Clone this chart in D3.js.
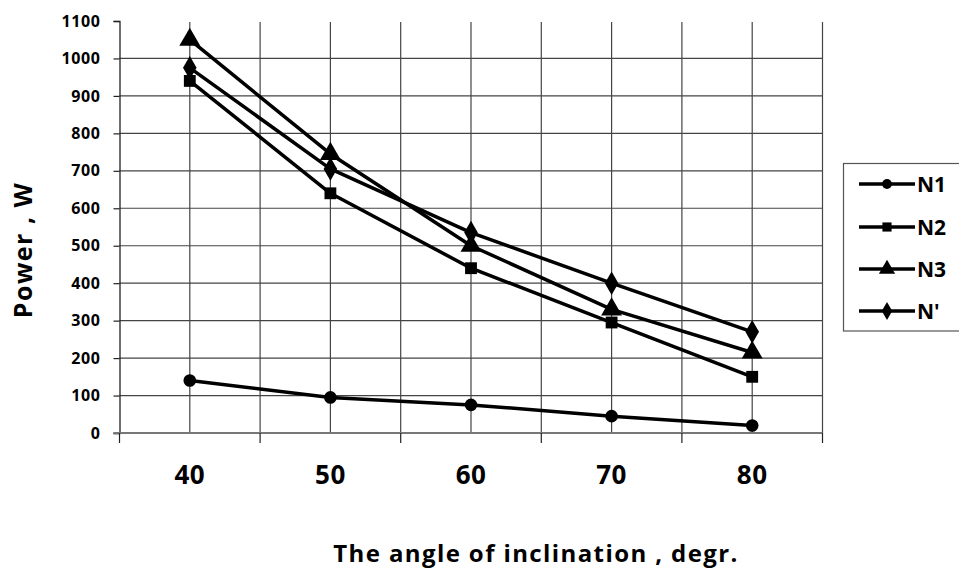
<!DOCTYPE html>
<html><head><meta charset="utf-8">
<script src="https://cdn.jsdelivr.net/npm/d3@7"></script>
<style>body{margin:0;background:#fff}svg{display:block}text{font-family:"Open Sans",sans-serif;font-weight:bold;fill:#000}</style>
</head><body><svg id="c" width="959" height="572"></svg>
<script>
const categories = [40, 50, 60, 70, 80];
const seriesNames = ["N1", "N2", "N3", "N'"];
const n1 = [140, 95, 75, 45, 20];
const n2 = [940, 640, 440, 295, 150];
const n3 = [1050, 745, 500, 330, 215];
const nPrime = [975, 705, 535, 400, 270];
const yTicks = [0, 100, 200, 300, 400, 500, 600, 700, 800, 900, 1000, 1100];
const symbols = [d3.symbolCircle, d3.symbolSquare, d3.symbolTriangle, d3.symbolDiamond];
const symSizes = [125, 140, 190, 160];
const series = [n1, n2, n3, nPrime];

const svg = d3.select("#c");
const L = 119.5, R = 822.5, T = 21, B = 433;
const x = d3.scaleBand().domain(categories).range([L, R]).padding(0);
const y = d3.scaleLinear().domain([0, 1100]).range([B, T]);
const cx = d => x(d) + x.bandwidth() / 2;

// horizontal grid
svg.append("g").selectAll("line").data(yTicks.filter(t => t > 0 && t < 1100)).join("line")
  .attr("x1", L).attr("x2", R).attr("y1", d => y(d)).attr("y2", d => y(d))
  .attr("stroke", "#444").attr("stroke-width", 1.2);
// vertical grid at centers and boundaries
const vgrid = [];
categories.forEach(c => { vgrid.push(cx(c)); vgrid.push(x(c) + x.bandwidth()); });
svg.append("g").selectAll("line").data(vgrid).join("line")
  .attr("x1", d => d).attr("x2", d => d).attr("y1", T + 1).attr("y2", B)
  .attr("stroke", "#444").attr("stroke-width", 1.2);

// y axis
const yAxis = svg.append("g").attr("transform", `translate(${L},0)`)
  .call(d3.axisLeft(y).tickValues(yTicks).tickFormat(d3.format("d")).tickSize(6).tickPadding(13));
yAxis.select(".domain").attr("stroke", "#222").attr("stroke-width", 1.3);
yAxis.selectAll(".tick line").attr("stroke", "#222").attr("stroke-width", 1.2);
yAxis.selectAll("text").style("font-size", "16px").style("letter-spacing", "0.6px").style("font-family", "'Open Sans',sans-serif").style("font-weight", "bold").attr("fill", "#000");

// x axis
const xAxis = svg.append("g").attr("transform", `translate(0,${B})`)
  .call(d3.axisBottom(x).tickSize(0).tickPadding(33));
xAxis.select(".domain").remove();
svg.append("line").attr("x1", L - 6).attr("x2", R).attr("y1", B).attr("y2", B).attr("stroke", "#777").attr("stroke-width", 2);
svg.append("g").selectAll("line").data([L].concat(categories.map(c => x(c) + x.bandwidth()))).join("line")
  .attr("x1", d => d).attr("x2", d => d).attr("y1", B).attr("y2", B + 10)
  .attr("stroke", "#222").attr("stroke-width", 1.2);
xAxis.selectAll("text").style("font-size", "26px").style("letter-spacing", "0.5px").style("font-family", "'Open Sans',sans-serif").style("font-weight", "bold").attr("fill", "#000");

// lines and markers
const line = d3.line().x((d, i) => cx(categories[i])).y(d => y(d));
series.forEach((s, k) => {
  svg.append("path").datum(s).attr("d", line).attr("fill", "none").attr("stroke", "#000").attr("stroke-width", 3.5).attr("stroke-linejoin", "round");
  svg.append("g").selectAll("path").data(s).join("path")
    .attr("transform", (d, i) => `translate(${cx(categories[i])},${y(d)})`)
    .attr("d", d3.symbol().type(symbols[k]).size(symSizes[k])).attr("fill", "#000");
});

// axis titles
svg.append("text").attr("x", 536).attr("y", 562).attr("text-anchor", "middle").style("font-size", "24px").style("letter-spacing", "1.4px").text("The angle of inclination , degr.");
svg.append("text").attr("transform", "translate(32,250) rotate(-90)").attr("text-anchor", "middle").style("font-size", "25px").style("letter-spacing", "1.5px").text("Power , W");

// legend
svg.append("rect").attr("x", 843.5).attr("y", 163.5).attr("width", 130).attr("height", 167.5).attr("fill", "#fff").attr("stroke", "#555").attr("stroke-width", 1.2);
const legY = [184, 227, 269, 311];
seriesNames.forEach((n, k) => {
  svg.append("line").attr("x1", 859).attr("x2", 915).attr("y1", legY[k]).attr("y2", legY[k]).attr("stroke", "#000").attr("stroke-width", 3.5);
  svg.append("path").attr("transform", `translate(887,${legY[k]})`).attr("d", d3.symbol().type(symbols[k]).size(symSizes[k] * 0.6)).attr("fill", "#000");
  svg.append("text").attr("x", 917).attr("y", legY[k]).attr("dy", "0.36em").style("font-size", "21px").text(n);
});
</script></body></html>
